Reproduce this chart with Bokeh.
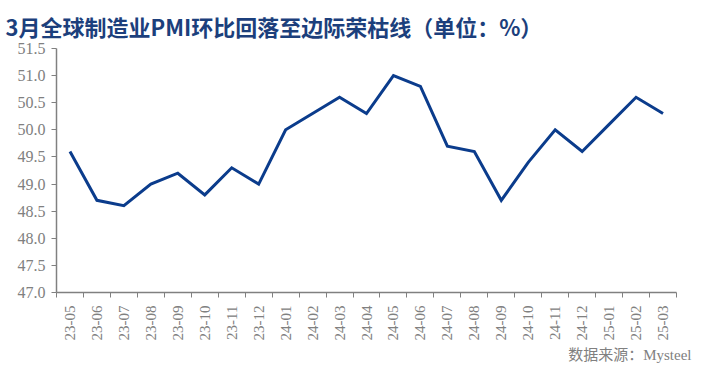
import math
from bokeh.plotting import figure
from bokeh.models import FixedTicker, Title, Range1d, CustomJSTickFormatter
from bokeh.embed import file_html
from bokeh.resources import INLINE

months = ["23-05", "23-06", "23-07", "23-08", "23-09", "23-10", "23-11", "23-12",
          "24-01", "24-02", "24-03", "24-04", "24-05", "24-06", "24-07", "24-08",
          "24-09", "24-10", "24-11", "24-12", "25-01", "25-02", "25-03"]
pmi = [49.6, 48.7, 48.6, 49.0, 49.2, 48.8, 49.3, 49.0,
       50.0, 50.3, 50.6, 50.3, 51.0, 50.8, 49.7, 49.6,
       48.7, 49.4, 50.0, 49.6, 50.1, 50.6, 50.3]
y_ticks = [47.0, 47.5, 48.0, 48.5, 49.0, 49.5, 50.0, 50.5, 51.0, 51.5]
title_text = "3月全球制造业PMI环比回落至边际荣枯线（单位：%）"
source_text = "数据来源：Mysteel"

n = len(months)
xs = [i + 0.5 for i in range(n)]

W, H = 693, 367
BL, BR, BT, BB = 56, 17, 47, 75

p = figure(width=W, height=H, output_backend="svg", toolbar_location=None,
           x_range=Range1d(0, n), y_range=Range1d(y_ticks[0], y_ticks[-1]),
           min_border_left=BL, min_border_right=BR, min_border_top=BT, min_border_bottom=BB)

p.title.text = title_text
p.title.text_font = "Noto Sans CJK SC"
p.title.text_font_style = "bold"
p.title.text_font_size = "22px"
p.title.text_color = "#1c3f7c"
p.title.offset = -51
p.title.standoff = 14

p.line(xs, pmi, line_color="#0b3c8c", line_width=3, line_join="miter")

p.xgrid.visible = False
p.ygrid.visible = False
p.outline_line_color = None

xa = p.xaxis[0]
xa.ticker = FixedTicker(ticks=xs, minor_ticks=list(range(n + 1)))
xa.major_label_overrides = {x: m for x, m in zip(xs, months)}
xa.major_label_orientation = math.pi / 2
xa.major_tick_out = 0
xa.major_tick_in = 0
xa.minor_tick_out = 5
xa.minor_tick_in = 0
xa.minor_tick_line_color = "#808080"
xa.axis_line_color = "#808080"
xa.axis_line_width = 1.5
xa.major_label_text_font = "Liberation Serif"
xa.major_label_text_font_size = "15px"
xa.major_label_text_color = "#808080"
xa.major_label_standoff = 8

ya = p.yaxis[0]
ya.ticker = FixedTicker(ticks=y_ticks)
ya.formatter = CustomJSTickFormatter(code="return tick.toFixed(1);")
ya.major_tick_out = 5
ya.major_tick_in = 0
ya.minor_tick_out = 0
ya.minor_tick_in = 0
ya.major_tick_line_color = "#808080"
ya.axis_line_color = "#808080"
ya.axis_line_width = 1.5
ya.major_label_text_font = "Liberation Serif"
ya.major_label_text_font_size = "16px"
ya.major_label_text_color = "#808080"
ya.major_label_standoff = 6

src = Title(text=source_text, align="right", offset=-15, standoff=2,
            text_font="Liberation Serif, Noto Sans CJK SC",
            text_font_size="15px", text_color="#808080", text_font_style="normal")
p.add_layout(src, "below")

open("out.html", "w").write(file_html(p, INLINE))
